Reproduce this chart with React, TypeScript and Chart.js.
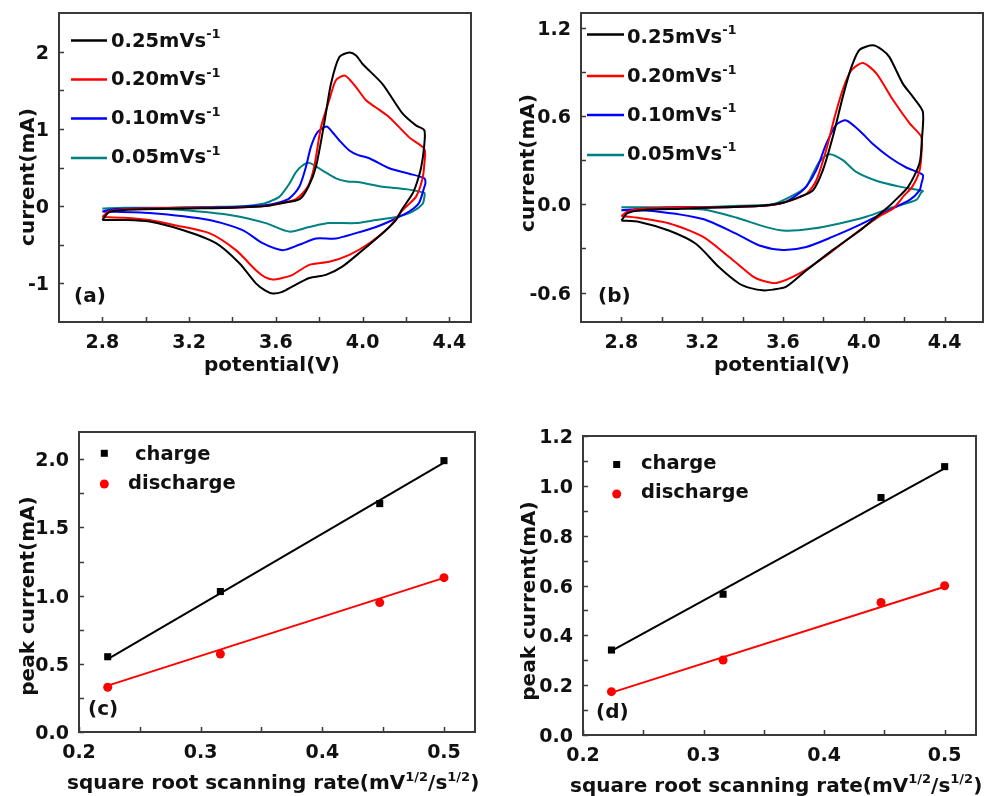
import React, { useEffect, useRef } from 'react';
import { Chart, registerables } from 'chart.js';
Chart.register(...registerables);

type P = [number, number];

const FONT = '"DejaVu Sans", "Liberation Sans", sans-serif';
const INK = '#111111';
const FRAME = '#3a3a3a';

// ---------- CV data (a) ----------
const scanRates = ['0.25', '0.20', '0.10', '0.05'];
const cvColors = ['#000000', '#ff0000', '#0000ff', '#008080'];

const cvA025: P[] = [
  [2.80, -0.18], [2.83, -0.08], [2.9, -0.05], [3.0, -0.04], [3.2, -0.03], [3.4, -0.02], [3.55, 0.0], [3.63, 0.04],
  [3.71, 0.09], [3.75, 0.25], [3.785, 0.51], [3.823, 1.07], [3.854, 1.58], [3.893, 1.93], [3.939, 1.99], [3.97, 1.95],
  [4.0, 1.84], [4.092, 1.58], [4.184, 1.2], [4.246, 1.045], [4.285, 0.98],
  [4.283, 0.75], [4.27, 0.5], [4.25, 0.3], [4.23, 0.16], [4.18, -0.05], [4.154, -0.18], [4.092, -0.35], [4.0, -0.57],
  [3.908, -0.78], [3.831, -0.89], [3.754, -0.93], [3.677, -1.04], [3.63, -1.11], [3.585, -1.13], [3.55, -1.09],
  [3.508, -1.0], [3.432, -0.74], [3.324, -0.48], [3.17, -0.31], [3.017, -0.2], [2.9, -0.18], [2.8, -0.18],
];
const cvA020: P[] = [
  [2.80, -0.14], [2.83, -0.07], [2.9, -0.04], [3.0, -0.03], [3.2, -0.02], [3.4, -0.02], [3.55, 0.0], [3.63, 0.04],
  [3.693, 0.09], [3.747, 0.25], [3.777, 0.51], [3.808, 1.02], [3.846, 1.37], [3.877, 1.63], [3.916, 1.69], [3.94, 1.64],
  [3.97, 1.54], [4.016, 1.37], [4.06, 1.28], [4.123, 1.15], [4.215, 0.89], [4.285, 0.74],
  [4.285, 0.55], [4.275, 0.34], [4.246, 0.12], [4.185, -0.05], [4.123, -0.27], [4.031, -0.48], [3.939, -0.63],
  [3.846, -0.72], [3.754, -0.76], [3.677, -0.89], [3.63, -0.93], [3.585, -0.95], [3.55, -0.92], [3.508, -0.83],
  [3.416, -0.57], [3.293, -0.35], [3.14, -0.25], [3.017, -0.18], [2.9, -0.15], [2.8, -0.14],
];
const cvA010: P[] = [
  [2.80, -0.07], [2.85, -0.04], [3.0, -0.03], [3.2, -0.02], [3.4, -0.01], [3.55, 0.01], [3.62, 0.05], [3.662, 0.1],
  [3.708, 0.25], [3.739, 0.51], [3.762, 0.77], [3.793, 0.96], [3.834, 1.03], [3.86, 0.96], [3.893, 0.85], [3.939, 0.72],
  [3.98, 0.66], [4.031, 0.62], [4.123, 0.49], [4.215, 0.42], [4.285, 0.36],
  [4.29, 0.3], [4.285, 0.25], [4.26, 0.04], [4.215, -0.07], [4.139, -0.18], [4.062, -0.27], [3.969, -0.35],
  [3.877, -0.42], [3.785, -0.42], [3.708, -0.5], [3.631, -0.57], [3.539, -0.48], [3.447, -0.31], [3.293, -0.18],
  [3.017, -0.09], [2.8, -0.07],
];
const cvA005: P[] = [
  [2.80, -0.03], [2.9, -0.02], [3.1, -0.02], [3.3, -0.01], [3.45, 0.0], [3.54, 0.03], [3.58, 0.07], [3.616, 0.12],
  [3.64, 0.2], [3.662, 0.29], [3.693, 0.44], [3.72, 0.52], [3.754, 0.56], [3.816, 0.46], [3.877, 0.36], [3.93, 0.32],
  [3.985, 0.31], [4.092, 0.25], [4.2, 0.22], [4.285, 0.17],
  [4.285, 0.12], [4.277, 0.03], [4.23, -0.07], [4.154, -0.14], [4.062, -0.18], [3.969, -0.22], [3.846, -0.22],
  [3.754, -0.27], [3.662, -0.33], [3.554, -0.22], [3.401, -0.12], [3.17, -0.05], [3.017, -0.03], [2.8, -0.03],
];

// ---------- CV data (b) ----------
const cvB025: P[] = [
  [2.80, -0.11], [2.83, -0.06], [2.9, -0.04], [3.1, -0.03], [3.3, -0.02], [3.5, -0.01], [3.6, 0.01], [3.682, 0.05],
  [3.748, 0.095], [3.797, 0.23], [3.847, 0.46], [3.896, 0.73], [3.938, 0.93], [3.979, 1.05], [4.045, 1.08],
  [4.09, 1.05], [4.127, 1.0], [4.193, 0.82], [4.243, 0.73], [4.292, 0.63],
  [4.288, 0.45], [4.276, 0.28], [4.22, 0.12], [4.15, 0.02], [4.11, -0.03], [3.979, -0.18], [3.847, -0.31],
  [3.715, -0.45], [3.616, -0.56], [3.55, -0.58], [3.5, -0.585], [3.44, -0.57], [3.384, -0.54], [3.285, -0.43],
  [3.17, -0.27], [3.038, -0.18], [2.889, -0.12], [2.8, -0.11],
];
const cvB020: P[] = [
  [2.80, -0.08], [2.83, -0.05], [2.9, -0.03], [3.1, -0.02], [3.3, -0.02], [3.5, -0.01], [3.6, 0.01], [3.715, 0.07],
  [3.764, 0.16], [3.814, 0.37], [3.855, 0.59], [3.896, 0.78], [3.938, 0.91], [3.995, 0.96], [4.062, 0.89],
  [4.144, 0.71], [4.227, 0.55], [4.284, 0.46],
  [4.286, 0.36], [4.276, 0.23], [4.24, 0.12], [4.2, 0.06], [4.144, -0.03], [4.078, -0.08], [3.946, -0.21],
  [3.814, -0.35], [3.682, -0.47], [3.566, -0.535], [3.5, -0.52], [3.45, -0.49], [3.335, -0.36], [3.203, -0.22],
  [3.038, -0.13], [2.873, -0.09], [2.8, -0.08],
];
const cvB010: P[] = [
  [2.80, -0.04], [2.9, -0.03], [3.1, -0.02], [3.3, -0.02], [3.5, -0.01], [3.6, 0.01], [3.665, 0.06], [3.715, 0.12],
  [3.764, 0.23], [3.814, 0.41], [3.863, 0.54], [3.913, 0.57], [3.979, 0.5], [4.045, 0.41], [4.127, 0.32],
  [4.21, 0.25], [4.292, 0.2],
  [4.285, 0.14], [4.276, 0.095], [4.227, 0.03], [4.11, -0.05], [3.979, -0.14], [3.847, -0.22], [3.715, -0.29],
  [3.599, -0.31], [3.483, -0.28], [3.368, -0.2], [3.203, -0.1], [2.955, -0.045], [2.8, -0.04],
];
const cvB005: P[] = [
  [2.80, -0.02], [3.0, -0.02], [3.2, -0.02], [3.4, -0.01], [3.55, 0.0], [3.649, 0.06], [3.715, 0.12], [3.748, 0.21],
  [3.781, 0.29], [3.83, 0.34], [3.896, 0.3], [3.962, 0.22], [4.062, 0.16], [4.177, 0.12], [4.292, 0.09],
  [4.284, 0.08], [4.26, 0.03], [4.144, -0.02], [4.012, -0.085], [3.88, -0.13], [3.748, -0.165], [3.616, -0.18],
  [3.517, -0.155], [3.368, -0.09], [3.203, -0.036], [2.955, -0.02], [2.8, -0.02],
];

// ---------- peak current data (c), (d) ----------
const rootRate = [0.2236, 0.3162, 0.4472, 0.5];
const chargeC = [0.552, 1.03, 1.675, 1.99];
const dischargeC = [0.328, 0.572, 0.949, 1.132];
const fitChargeC: P[] = [[0.2236, 0.535], [0.5, 1.975]];
const fitDischargeC: P[] = [[0.2236, 0.34], [0.5, 1.13]];
const chargeD = [0.341, 0.565, 0.953, 1.077];
const dischargeD = [0.174, 0.301, 0.532, 0.599];
const fitChargeD: P[] = [[0.2236, 0.338], [0.5, 1.07]];
const fitDischargeD: P[] = [[0.2236, 0.17], [0.5, 0.595]];

// ---------- ticks ----------
const xMajorCV = [2.8, 3.2, 3.6, 4.0, 4.4];
const xMinorCV = [3.0, 3.4, 3.8, 4.2];
const yMajorA = [-1, 0, 1, 2];
const yMinorA = [-0.5, 0.5, 1.5];
const yMajorB = [-0.6, 0.0, 0.6, 1.2];
const yMinorB = [-0.3, 0.3, 0.9];
const xMajorRate = [0.2, 0.3, 0.4, 0.5];
const xMinorRate = [0.25, 0.35, 0.45];
const yMajorC = [0, 0.5, 1.0, 1.5, 2.0];
const yMinorC = [0.25, 0.75, 1.25, 1.75];
const yMajorD = [0, 0.2, 0.4, 0.6, 0.8, 1.0, 1.2];
const yMinorD = [0.1, 0.3, 0.5, 0.7, 0.9, 1.1];

type Part = { t: string; sup?: boolean };

function drawRich(ctx: CanvasRenderingContext2D, parts: Part[], x: number, y: number, size: number, align: 'left' | 'center') {
  const supSize = Math.round(size * 0.66);
  const mf = `bold ${size}px ${FONT}`;
  const sf = `bold ${supSize}px ${FONT}`;
  let total = 0;
  for (const p of parts) {
    ctx.font = p.sup ? sf : mf;
    total += ctx.measureText(p.t).width;
  }
  let cx = align === 'center' ? x - total / 2 : x;
  ctx.textAlign = 'left';
  ctx.textBaseline = 'alphabetic';
  for (const p of parts) {
    ctx.font = p.sup ? sf : mf;
    ctx.fillText(p.t, cx, p.sup ? y - size * 0.42 : y);
    cx += ctx.measureText(p.t).width;
  }
}

type LegendItem = { kind: 'line' | 'rect' | 'circle'; color: string; parts: Part[]; mx: number; my: number; mx2?: number; tx: number; ty: number };

type PanelCfg = {
  box: { x: number; y: number; w: number; h: number };
  area: { l: number; t: number; r: number; b: number };
  xRange: [number, number];
  yRange: [number, number];
  xMajor: number[]; xMinor: number[]; xDec: number;
  yMajor: number[]; yMinor: number[]; yDec: number;
  xTitle: Part[]; xTitlePos: { x: number; y: number; align: 'left' | 'center' };
  yTitle: string; yTitlePos: { x: number; y: number };
  letter: string; letterPos: { x: number; y: number };
  legend: LegendItem[];
  datasets: any[];
};

function cvDatasets(loops: P[][]) {
  return loops.map((loop, i) => ({
    label: scanRates[i],
    data: loop.map(([x, y]) => ({ x, y })),
    showLine: true,
    borderColor: cvColors[i],
    borderWidth: 2,
    pointRadius: 0,
    tension: 0.25,
    fill: false,
  }));
}

function rateDatasets(charge: number[], discharge: number[], fitC: P[], fitD: P[]) {
  return [
    { label: 'charge', data: rootRate.map((x, i) => ({ x, y: charge[i] })), showLine: false, pointStyle: 'rect', pointRadius: 5, backgroundColor: '#000', borderColor: '#000', borderWidth: 0 },
    { label: 'discharge', data: rootRate.map((x, i) => ({ x, y: discharge[i] })), showLine: false, pointStyle: 'circle', pointRadius: 4.5, backgroundColor: '#ff0000', borderColor: '#ff0000', borderWidth: 0 },
    { label: 'fit charge', data: fitC.map(([x, y]) => ({ x, y })), showLine: true, borderColor: '#000', borderWidth: 2, pointRadius: 0 },
    { label: 'fit discharge', data: fitD.map(([x, y]) => ({ x, y })), showLine: true, borderColor: '#ff0000', borderWidth: 2, pointRadius: 0 },
  ];
}

function cvLegend(lines: number[], bases: number[], x1: number, x2: number, tx: number): LegendItem[] {
  return scanRates.map((r, i) => ({
    kind: 'line' as const, color: cvColors[i], parts: [{ t: `${r}mVs` }, { t: '-1', sup: true }],
    mx: x1, mx2: x2, my: lines[i], tx, ty: bases[i],
  }));
}

const rateTitle: Part[] = [{ t: 'square root scanning rate(mV' }, { t: '1/2', sup: true }, { t: '/s' }, { t: '1/2', sup: true }, { t: ')' }];

const panels: PanelCfg[] = [
  {
    box: { x: 0, y: 0, w: 490, h: 400 },
    area: { l: 59, t: 13, r: 471, b: 322 },
    xRange: [2.6, 4.5], yRange: [-1.5, 2.5],
    xMajor: xMajorCV, xMinor: xMinorCV, xDec: 1,
    yMajor: yMajorA, yMinor: yMinorA, yDec: 0,
    xTitle: [{ t: 'potential(V)' }], xTitlePos: { x: 272, y: 371, align: 'center' },
    yTitle: 'current(mA)', yTitlePos: { x: 33.5, y: 177 },
    letter: '(a)', letterPos: { x: 74, y: 302 },
    legend: cvLegend([40.5, 79.5, 118.5, 158], [46.5, 85, 124, 163], 71, 107, 111),
    datasets: cvDatasets([cvA025, cvA020, cvA010, cvA005]),
  },
  {
    box: { x: 490, y: 0, w: 500, h: 400 },
    area: { l: 581, t: 13, r: 983, b: 322 },
    xRange: [2.6, 4.59], yRange: [-0.8, 1.3],
    xMajor: xMajorCV, xMinor: xMinorCV, xDec: 1,
    yMajor: yMajorB, yMinor: yMinorB, yDec: 1,
    xTitle: [{ t: 'potential(V)' }], xTitlePos: { x: 782, y: 371, align: 'center' },
    yTitle: 'current(mA)', yTitlePos: { x: 533.5, y: 163 },
    letter: '(b)', letterPos: { x: 598, y: 302 },
    legend: cvLegend([34.5, 76, 115, 155], [42.5, 82, 120.5, 159.5], 587, 624, 627),
    datasets: cvDatasets([cvB025, cvB020, cvB010, cvB005]),
  },
  {
    box: { x: 0, y: 400, w: 490, h: 396 },
    area: { l: 79, t: 432, r: 475, b: 732 },
    xRange: [0.2, 0.5255], yRange: [0, 2.2],
    xMajor: xMajorRate, xMinor: xMinorRate, xDec: 1,
    yMajor: yMajorC, yMinor: yMinorC, yDec: 1,
    xTitle: rateTitle, xTitlePos: { x: 67, y: 789, align: 'left' },
    yTitle: 'peak current(mA)', yTitlePos: { x: 33.5, y: 596 },
    letter: '(c)', letterPos: { x: 88, y: 715 },
    legend: [
      { kind: 'rect', color: '#000', parts: [{ t: 'charge' }], mx: 104.3, my: 453.3, tx: 135, ty: 460 },
      { kind: 'circle', color: '#ff0000', parts: [{ t: 'discharge' }], mx: 104.3, my: 484, tx: 128, ty: 488.5 },
    ],
    datasets: rateDatasets(chargeC, dischargeC, fitChargeC, fitDischargeC),
  },
  {
    box: { x: 490, y: 400, w: 500, h: 396 },
    area: { l: 583, t: 436, r: 976, b: 735 },
    xRange: [0.2, 0.526], yRange: [0, 1.2],
    xMajor: xMajorRate, xMinor: xMinorRate, xDec: 1,
    yMajor: yMajorD, yMinor: yMinorD, yDec: 1,
    xTitle: rateTitle, xTitlePos: { x: 570, y: 791.5, align: 'left' },
    yTitle: 'peak current(mA)', yTitlePos: { x: 535, y: 601 },
    letter: '(d)', letterPos: { x: 596, y: 718 },
    legend: [
      { kind: 'rect', color: '#000', parts: [{ t: 'charge' }], mx: 616.7, my: 464.5, tx: 641, ty: 469 },
      { kind: 'circle', color: '#ff0000', parts: [{ t: 'discharge' }], mx: 616.7, my: 494, tx: 641, ty: 498 },
    ],
    datasets: rateDatasets(chargeD, dischargeD, fitChargeD, fitDischargeD),
  },
];

function decorPlugin(cfg: PanelCfg) {
  return {
    id: 'decor',
    afterDraw(chart: any) {
      const ctx: CanvasRenderingContext2D = chart.ctx;
      const a = chart.chartArea;
      const xs = chart.scales.x;
      const ys = chart.scales.y;
      const ox = cfg.box.x;
      const oy = cfg.box.y;
      ctx.save();
      // frame
      ctx.strokeStyle = FRAME;
      ctx.lineWidth = 2;
      ctx.strokeRect(a.left, a.top, a.right - a.left, a.bottom - a.top);
      // inward ticks
      ctx.lineWidth = 1.5;
      ctx.beginPath();
      for (const v of [...cfg.xMajor, ...cfg.xMinor]) {
        const px = Math.round(xs.getPixelForValue(v)) + 0.5;
        ctx.moveTo(px, a.bottom);
        ctx.lineTo(px, a.bottom - 5);
      }
      for (const v of [...cfg.yMajor, ...cfg.yMinor]) {
        const py = Math.round(ys.getPixelForValue(v)) + 0.5;
        ctx.moveTo(a.left, py);
        ctx.lineTo(a.left + 5, py);
      }
      ctx.stroke();
      // tick labels
      ctx.fillStyle = INK;
      ctx.font = `bold 19px ${FONT}`;
      ctx.textBaseline = 'alphabetic';
      ctx.textAlign = 'center';
      for (const v of cfg.xMajor) {
        ctx.fillText(v.toFixed(cfg.xDec), xs.getPixelForValue(v), a.bottom + 26);
      }
      ctx.textAlign = 'right';
      for (const v of cfg.yMajor) {
        ctx.fillText(v.toFixed(cfg.yDec), a.left - 10, ys.getPixelForValue(v) + 7);
      }
      // axis titles
      drawRich(ctx, cfg.xTitle, cfg.xTitlePos.x - ox, cfg.xTitlePos.y - oy, 20, cfg.xTitlePos.align);
      ctx.save();
      ctx.translate(cfg.yTitlePos.x - ox, cfg.yTitlePos.y - oy);
      ctx.rotate(-Math.PI / 2);
      ctx.font = `bold 20px ${FONT}`;
      ctx.textAlign = 'center';
      ctx.textBaseline = 'alphabetic';
      ctx.fillText(cfg.yTitle, 0, 0);
      ctx.restore();
      // panel letter
      ctx.font = `bold 20px ${FONT}`;
      ctx.textAlign = 'left';
      ctx.fillText(cfg.letter, cfg.letterPos.x - ox, cfg.letterPos.y - oy);
      // legend
      for (const it of cfg.legend) {
        const mx = it.mx - ox;
        const my = it.my - oy;
        if (it.kind === 'line') {
          ctx.strokeStyle = it.color;
          ctx.lineWidth = 2.5;
          ctx.beginPath();
          ctx.moveTo(mx, my);
          ctx.lineTo((it.mx2 ?? it.mx) - ox, my);
          ctx.stroke();
        } else if (it.kind === 'rect') {
          ctx.fillStyle = it.color;
          ctx.fillRect(mx - 3.5, my - 3.5, 7, 7);
        } else {
          ctx.fillStyle = it.color;
          ctx.beginPath();
          ctx.arc(mx, my, 4.5, 0, Math.PI * 2);
          ctx.fill();
        }
        ctx.fillStyle = INK;
        drawRich(ctx, it.parts, it.tx - ox, it.ty - oy, 19.5, 'left');
      }
      ctx.restore();
    },
  };
}

function Panel({ cfg }: { cfg: PanelCfg }) {
  const ref = useRef<HTMLCanvasElement | null>(null);
  useEffect(() => {
    if (!ref.current) return;
    const { box, area } = cfg;
    const chart = new Chart(ref.current, {
      type: 'scatter',
      data: { datasets: cfg.datasets },
      options: {
        responsive: false,
        animation: false,
        events: [],
        layout: { padding: { top: area.t - box.y, right: box.x + box.w - area.r, left: 0, bottom: 0 } },
        plugins: { legend: { display: false }, tooltip: { enabled: false }, title: { display: false } },
        scales: {
          x: {
            type: 'linear', min: cfg.xRange[0], max: cfg.xRange[1],
            ticks: { display: false },
            grid: { display: false, drawTicks: false },
            border: { display: false },
            afterFit: (s: any) => { s.height = box.y + box.h - area.b; },
          },
          y: {
            type: 'linear', min: cfg.yRange[0], max: cfg.yRange[1],
            ticks: { display: false },
            grid: { display: false, drawTicks: false },
            border: { display: false },
            afterFit: (s: any) => { s.width = area.l - box.x; },
          },
        },
      } as any,
      plugins: [decorPlugin(cfg)],
    });
    return () => chart.destroy();
  }, [cfg]);
  return (
    <canvas
      ref={ref}
      width={cfg.box.w}
      height={cfg.box.h}
      style={{ position: 'absolute', left: cfg.box.x, top: cfg.box.y, width: cfg.box.w, height: cfg.box.h }}
    />
  );
}

export default function App() {
  return (
    <div style={{ position: 'absolute', left: 0, top: 0, width: 990, height: 796, background: '#fff', overflow: 'hidden' }}>
      {panels.map((p, i) => (
        <Panel key={i} cfg={p} />
      ))}
    </div>
  );
}
